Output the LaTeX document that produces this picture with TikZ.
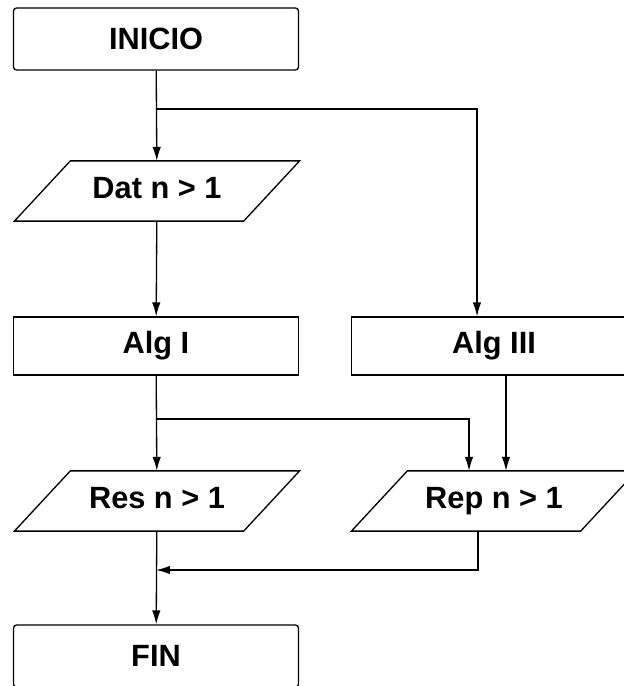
\documentclass[tikz,border=0pt]{standalone}
\usepackage{fontspec}
\setmainfont{Liberation Sans}
\usetikzlibrary{arrows.meta}

\tikzset{
  term/.style={rectangle, draw, rounded corners=0.06cm, minimum width=5.7cm, minimum height=1.24cm},
  proc/.style={rectangle, draw, minimum width=5.7cm, minimum height=1.16cm},
  % slanted data box, drawn round an invisible body
  io/.style={rectangle, minimum width=4.56cm, minimum height=1.18cm,
    text height=0.9em, text depth=0pt,
    append after command={\pgfextra{\draw ([xshift=-0.56cm]\tikzlastnode.south west)
      -- ([xshift=-0.56cm]\tikzlastnode.south east) -- ([xshift=0.56cm]\tikzlastnode.north east)
      -- ([xshift=0.56cm]\tikzlastnode.north west) -- cycle;}}},
  flow/.style={-{Latex[length=0.28cm,width=0.17cm]}}
}

\begin{document}
\begin{tikzpicture}[x=0.02cm, y=-0.02cm, line width=0.75pt,
  every node/.style={font=\bfseries\fontsize{17.5}{20}\selectfont}]
  \useasboundingbox (0,0) rectangle (624,686);
  % Nodes
  \node (INICIO) [term] at (156,39) {INICIO};
  \node (Dat) [io] at (157,191) {Dat n > 1};
  \node (AlgI) [proc] at (156,346) {Alg I};
  \node (AlgIII) [proc] at (494,346) {Alg III};
  \node (Res) [io] at (157,501) {Res n > 1};
  \node (Rep) [io] at (494,501) {Rep n > 1};
  \node (FIN) [term] at (156,656) {FIN};
  % Forks and join
  \coordinate (fork1) at (156,109);
  \coordinate (fork2) at (156,419);
  \coordinate (join) at (156,570);
  % Arrows
  \draw[flow] (INICIO) -- (Dat);
  \draw[flow] (fork1) -| ([xshift=-0.34cm]AlgIII.north);
  \draw[flow] (Dat) -- (AlgI);
  \draw[flow] (AlgI) -- (Res);
  \draw[flow] (fork2) -| ([xshift=-0.5cm]Rep.north);
  \draw[flow] ([xshift=0.24cm]AlgIII.south) -- ([xshift=0.24cm]Rep.north);
  \draw[flow] (Res) -- (FIN);
  \draw[flow] ([xshift=-0.32cm]Rep.south) |- (join);
\end{tikzpicture}
\end{document}
